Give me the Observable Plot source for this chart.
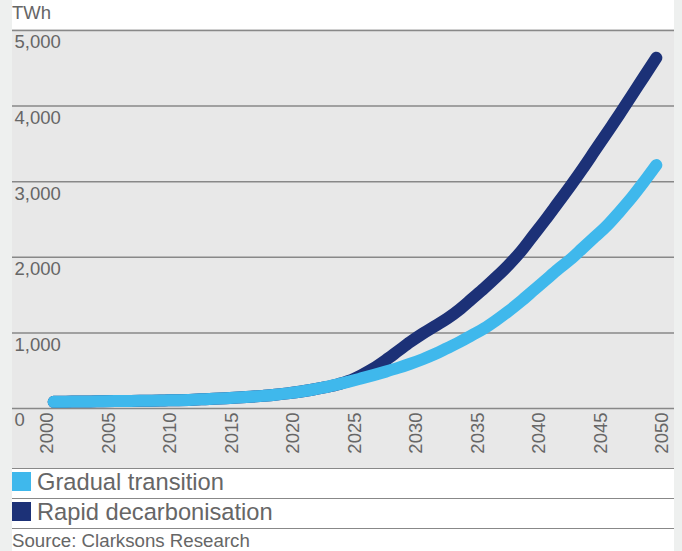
<!DOCTYPE html>
<html><head><meta charset="utf-8">
<script src="https://cdn.jsdelivr.net/npm/d3@7"></script>
<script src="https://cdn.jsdelivr.net/npm/@observablehq/plot@0.6"></script>
<style>
html,body{margin:0;padding:0;background:#eef0ef;width:682px;height:551px;overflow:hidden;}
#wrap{position:absolute;left:12px;top:0;width:662px;height:551px;background:#fff;font-family:"Liberation Sans",Arial,sans-serif;color:#666;overflow:hidden;}
.t{position:absolute;line-height:1;white-space:nowrap;}
.rule{position:absolute;left:0;width:662px;height:1.5px;background:#888;}
.sw{position:absolute;left:0;width:19px;height:19px;}
#chart{position:absolute;left:0;top:29px;}
</style>
</head><body>
<div id="wrap">
  <div class="t" style="left:0;top:4.3px;font-size:18.5px;">TWh</div>
  <div id="chart"></div>
  <div id="legend"></div>
  <div class="t" style="left:0;top:532px;font-size:18.7px;">Source: Clarksons Research</div>
</div>
<script>
const years = [2000,2001,2002,2003,2004,2005,2006,2007,2008,2009,
  2010,2011,2012,2013,2014,2015,2016,2017,2018,2019,
  2020,2021,2022,2023,2024,2025,2026,2027,2028,2029,
  2030,2031,2032,2033,2034,2035,2036,2037,2038,2039,
  2040,2041,2042,2043,2044,2045,2046,2047,2048,2049];
const gradual = [88,90,92,94,96,98,100,102,104,107,
  110,114,121,128,136,145,155,167,181,200,
  222,248,278,315,355,398,442,488,537,592,
  652,720,800,880,970,1060,1170,1290,1420,1560,
  1700,1840,1970,2120,2270,2420,2600,2790,3000,3220];
const rapid = [88,90,92,94,96,98,100,102,104,107,
  110,114,121,128,136,145,155,167,181,200,
  222,248,278,315,365,440,530,640,760,880,
  990,1090,1190,1310,1450,1590,1740,1900,2080,2290,
  2500,2720,2940,3170,3410,3650,3890,4140,4390,4640];
const seriesNames = ["Gradual transition", "Rapid decarbonisation"];
const seriesColors = ["#3fb8ec", "#1c3177"];
const yTicks = [0,1000,2000,3000,4000,5000];
const xTicks = [2000,2005,2010,2015,2020,2025,2030,2035,2040,2045,2050];

const gradRows = years.map((year, i) => ({year, value: gradual[i]}));
const rapidRows = years.map((year, i) => ({year, value: rapid[i]}));

const chart = Plot.plot({
  width: 662, height: 439,
  marginTop: 1, marginBottom: 60, marginLeft: 35, marginRight: 12,
  style: {background: "#e8e8e8", fontFamily: "'Liberation Sans', Arial, sans-serif", fontSize: "18.5px", color: "#666"},
  x: {domain: [2000, 2050]},
  y: {domain: [0, 5000]},
  marks: [
    Plot.ruleY(yTicks, {stroke: "#888", strokeWidth: 1.5, insetLeft: -35, insetRight: -12}),
    Plot.axisY(yTicks, {anchor: "left", tickSize: 0, tickPadding: 0, textAnchor: "start", dx: -33, dy: 12, tickFormat: d3.format(","), label: null, fill: "#666"}),
    Plot.axisX(xTicks, {anchor: "bottom", tickSize: 0, tickPadding: 4, tickRotate: -90, label: null, tickFormat: d => String(d), fill: "#666"}),
    Plot.line(rapidRows, {x: d => d.year + 0.5, y: "value", stroke: seriesColors[1], strokeWidth: 12, strokeLinecap: "round", strokeLinejoin: "round", curve: "monotone-x"}),
    Plot.line(gradRows, {x: d => d.year + 0.5, y: "value", stroke: seriesColors[0], strokeWidth: 12, strokeLinecap: "round", strokeLinejoin: "round", curve: "monotone-x"})
  ]
});
document.getElementById("chart").appendChild(chart);

const legend = document.getElementById("legend");
const rules = [467.5, 497.5, 527.5];
rules.forEach(top => {
  const r = document.createElement("div");
  r.className = "rule"; r.style.top = top + "px";
  legend.appendChild(r);
});
const swTops = [471.7, 501.7];
const txtTops = [471, 500.5];
seriesNames.forEach((name, i) => {
  const s = document.createElement("div");
  s.className = "sw"; s.style.top = swTops[i] + "px"; s.style.background = seriesColors[i];
  legend.appendChild(s);
  const t = document.createElement("div");
  t.className = "t"; t.style.left = "25px"; t.style.top = txtTops[i] + "px"; t.style.fontSize = "23.7px";
  t.textContent = name;
  legend.appendChild(t);
});
</script>
</body></html>
